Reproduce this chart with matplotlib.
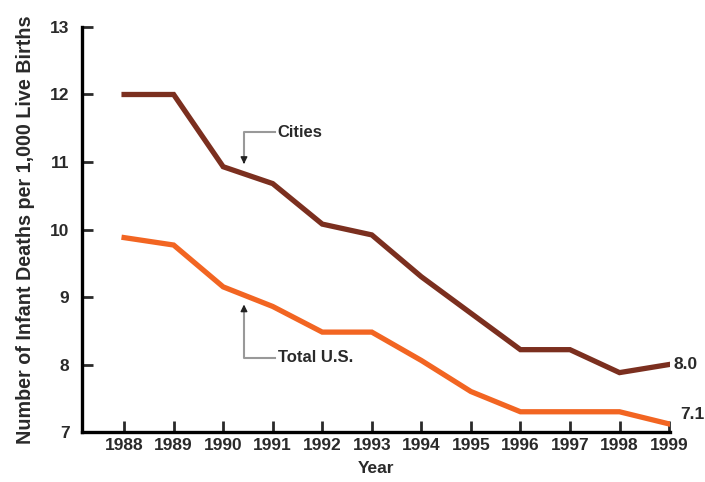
import matplotlib
matplotlib.use('Agg')
import matplotlib.pyplot as plt

years = [1988, 1989, 1990, 1991, 1992, 1993, 1994, 1995, 1996, 1997, 1998, 1999]
cities = [12.0, 12.0, 10.93, 10.68, 10.08, 9.92, 9.3, 8.76, 8.22, 8.22, 7.88, 8.0]
total_us = [9.88, 9.77, 9.15, 8.86, 8.48, 8.48, 8.06, 7.6, 7.3, 7.3, 7.3, 7.12]
y_ticks = [7, 8, 9, 10, 11, 12, 13]

plt.rcParams['font.family'] = ['Liberation Sans', 'DejaVu Sans']
plt.rcParams['font.weight'] = 'bold'
plt.rcParams['axes.labelweight'] = 'bold'
text_color = '#2a2a2a'

fig = plt.figure(figsize=(7.05, 4.82), dpi=100)
ax = fig.add_axes([0.1163, 0.1037, 0.8341, 0.8403])

ax.plot(years, cities, color='#7b2f1f', lw=3.8, solid_joinstyle='miter')
ax.plot(years, total_us, color='#f26522', lw=3.8, solid_joinstyle='miter')

ax.set_xlim(1987.15, 1999.02)
ax.set_ylim(7, 13)
ax.set_xticks(years)
ax.set_yticks(y_ticks)
ax.tick_params(direction='in', width=2, length=8, labelsize=12.5, colors=text_color)
ax.tick_params(axis='x', pad=4)
ax.tick_params(axis='y', pad=9)
for side in ['top', 'right']:
    ax.spines[side].set_visible(False)
for side in ['left', 'bottom']:
    ax.spines[side].set_linewidth(2.4)
    ax.spines[side].set_color('black')

ax.set_xlabel('Year', fontsize=12.5, color=text_color, labelpad=6)
ax.set_ylabel('Number of Infant Deaths per 1,000 Live Births', fontsize=14.2,
              color=text_color, labelpad=11)

# callouts
ax.plot([1991.05, 1990.42, 1990.42], [11.44, 11.44, 11.0], color='#999999', lw=1.5)
ax.annotate('', xy=(1990.42, 10.93), xytext=(1990.42, 11.05),
            arrowprops=dict(arrowstyle='-|>', color='#222222', lw=1, mutation_scale=10))
ax.text(1991.1, 11.44, 'Cities', fontsize=12, va='center', color=text_color)

ax.plot([1991.05, 1990.42, 1990.42], [8.1, 8.1, 8.85], color='#999999', lw=1.5)
ax.annotate('', xy=(1990.42, 8.93), xytext=(1990.42, 8.8),
            arrowprops=dict(arrowstyle='-|>', color='#222222', lw=1, mutation_scale=10))
ax.text(1991.1, 8.1, 'Total U.S.', fontsize=12, va='center', color=text_color)

ax.annotate(f'{cities[-1]:.1f}', xy=(years[-1], cities[-1]), xytext=(3, 0),
            textcoords='offset points', va='center', fontsize=12.5, color=text_color)
ax.annotate(f'{total_us[-1]:.1f}', xy=(years[-1], total_us[-1]), xytext=(8, 7),
            textcoords='offset points', va='center', fontsize=12.5, color=text_color)

plt.savefig('out.png', dpi=100)
